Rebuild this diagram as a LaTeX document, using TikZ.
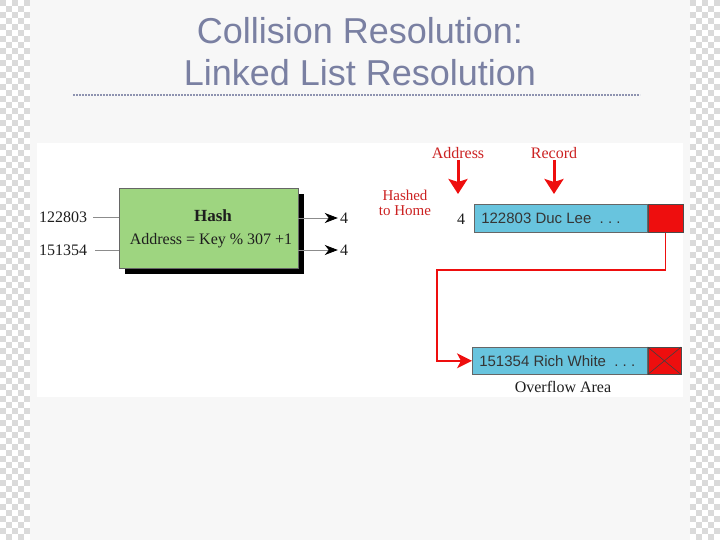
\documentclass[tikz,border=0pt]{standalone}
\usepackage{fontspec}
\setmainfont{Liberation Serif}
\newfontfamily\sansf{Liberation Sans}
\usetikzlibrary{arrows.meta,shadows}
\definecolor{bg}{RGB}{247,247,247}
\definecolor{chk}{RGB}{218,218,218}
\definecolor{titlec}{RGB}{122,128,162}
\definecolor{hashgreen}{RGB}{158,213,128}
\definecolor{reccyan}{RGB}{104,196,222}
\definecolor{ptrred}{RGB}{238,14,14}
\definecolor{labred}{RGB}{204,34,34}
\definecolor{ink}{RGB}{30,30,30}
\begin{document}
\begin{tikzpicture}[x=1pt,y=-1pt,
  titletext/.style={font=\sansf\fontsize{36}{40}\selectfont, text=titlec, inner sep=0pt},
  dtext/.style={font=\fontsize{16}{18}\selectfont, text=ink, inner sep=2pt},
  redlab/.style={font=\fontsize{16}{15}\selectfont, text=labred, inner sep=1pt},
  hashbox/.style={draw=black!60, line width=0.6pt, fill=hashgreen, minimum width=179pt, minimum height=80pt,
    drop shadow={shadow xshift=6pt, shadow yshift=-6pt, opacity=1, fill=black}},
  recbox/.style={draw=black!60, line width=0.6pt, fill=reccyan, inner xsep=7pt, inner ysep=0pt,
    font=\sansf\fontsize{15}{17}\selectfont, text=ink!90},
  ptrbox/.style={draw=black!70, line width=0.6pt, fill=ptrred, inner sep=0pt},
  inline/.style={draw=black!45, line width=0.9pt},
  outarrow/.style={draw=black!45, line width=0.9pt, -{Stealth[length=13pt,width=10pt,inset=4pt,color=black]}},
  bigred/.style={draw=ptrred, line width=3pt, -{Stealth[length=15pt,width=19pt,inset=3pt]}},
  ptrline/.style={draw=ptrred, line width=1.5pt, -{Stealth[length=15pt,width=15pt,inset=4pt]}}
]
\useasboundingbox (0,0) rectangle (720,540);
\fill[bg] (0,0) rectangle (720,540);
% checker strips
\fill[chk] (0,0) rectangle (30,540);
\fill[chk] (690,0) rectangle (720,540);
\foreach \j in {0,...,89} {
  \foreach \i in {0,...,4} {
    \ifodd\numexpr\i+\j\relax
      \fill[white] (\i*6,\j*6) rectangle ++(6,6);
      \fill[white] (690+\i*6,\j*6) rectangle ++(6,6);
    \fi
  }
}
% title
\node[titletext, anchor=base] (t1) at (360,44) {Collision Resolution:};
\node[titletext, anchor=base] (t2) at (360,86) {Linked List Resolution};
\draw[titlec!85, line width=2pt, dash pattern=on 2pt off 1pt] (73,95) -- (640,95);
% picture panel
\fill[white] (37,143) rectangle (683,397);
% hash function
\node[hashbox] (hash) at (208.5,228) {};
\node[font=\bfseries\fontsize{17}{20}\selectfont, text=ink, inner sep=0pt] (hashT) at (213,216) {Hash};
\node[dtext, inner sep=0pt] (hashF) at (211,241) {Address = Key \% 307 +1};
\node[dtext, anchor=west] (k1) at (37,217) {122803};
\node[dtext, anchor=west] (k2) at (37,250) {151354};
\draw[inline] ([xshift=4pt]k1.east) -- (hash.west |- k1.east);
\draw[inline] ([xshift=6pt]k2.east) -- (hash.west |- k2.east);
\node[dtext] (o1) at (344,218) {4};
\node[dtext] (o2) at (344,250) {4};
\draw[outarrow] (hash.east |- o1.west) -- (o1.west);
\draw[outarrow] (hash.east |- o2.west) -- (o2.west);
% home area
\node[redlab] (addr) at (458,153) {Address};
\node[redlab] (rec) at (554,153) {Record};
\node[redlab, align=center, font=\fontsize{15}{15}\selectfont] (hashed) at (405,203) {Hashed\\to Home};
\node[dtext] (four) at (461,219) {4};
\node[recbox, minimum height=28pt, anchor=north west] (rec1) at (474,204) {\makebox[159pt][l]{122803 Duc Lee~~.~.~.}};
\node[ptrbox, minimum width=35pt, minimum height=28pt, anchor=north west] (ptr1) at (rec1.north east) {};
\coordinate (addrTip) at (458,194);
\draw[bigred] (addr.south) -- (addrTip);
\draw[bigred, shorten >=10pt] (rec.south) -- (rec.south |- rec1.north);
% overflow area
\node[recbox, minimum height=27pt, anchor=north west] (rec2) at (472,347) {\makebox[161pt][l]{151354 Rich White~~.~.~.}};
\node[ptrbox, minimum width=33pt, minimum height=27pt, anchor=north west] (ptr2) at (rec2.north east) {};
\draw[black!75, line width=0.6pt] (ptr2.north west) -- (ptr2.south east) (ptr2.south west) -- (ptr2.north east);
\node[dtext] (ovf) at (563,387) {Overflow Area};
\coordinate (turnA) at (437,270);
\draw[ptrline] (ptr1.south) |- (turnA) |- (rec2.west);
\end{tikzpicture}
\end{document}
